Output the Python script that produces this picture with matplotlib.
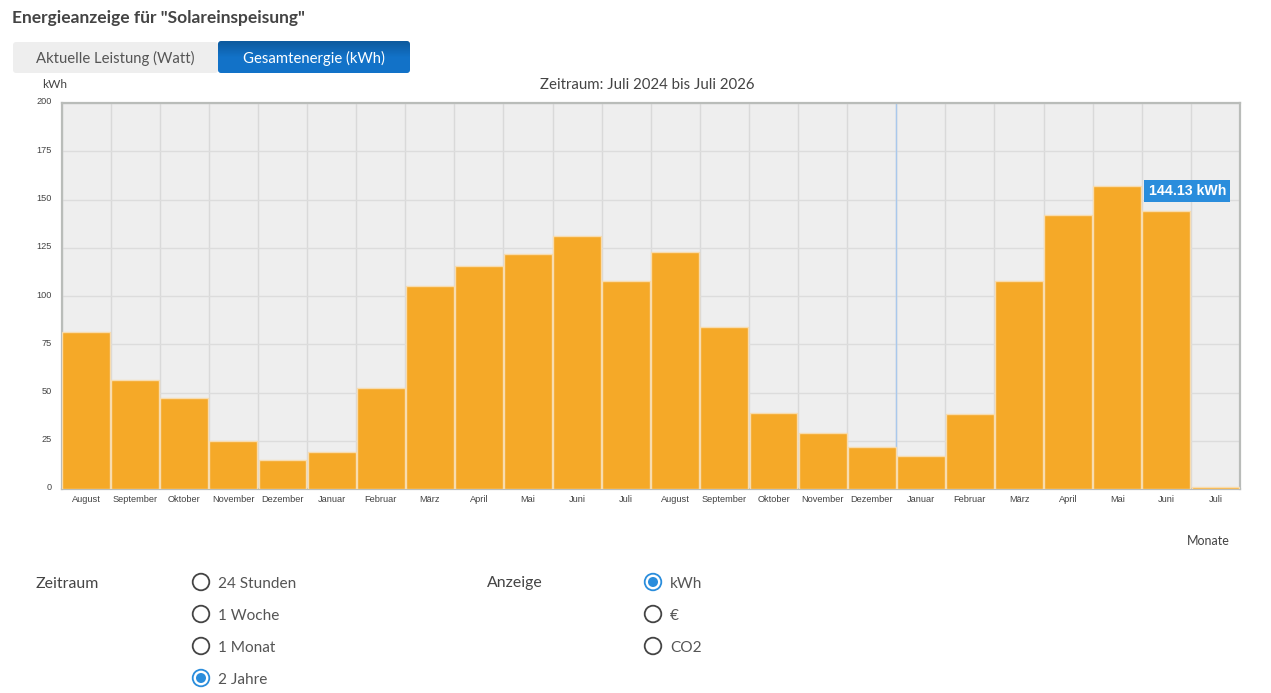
"""Energieanzeige: monthly solar feed-in bars with the surrounding page controls."""
import matplotlib
matplotlib.use("Agg")
import matplotlib.pyplot as plt
from matplotlib.patches import Circle, FancyBboxPatch
from matplotlib.transforms import ScaledTranslation
import numpy as np

MONTHS = ["August", "September", "Oktober", "November", "Dezember", "Januar",
          "Februar", "März", "April", "Mai", "Juni", "Juli",
          "August", "September", "Oktober", "November", "Dezember", "Januar",
          "Februar", "März", "April", "Mai", "Juni", "Juli"]
KWH = [81.5, 56.7, 47.3, 25.0, 15.0, 19.0, 52.5, 105.3, 115.6, 122.0, 131.2, 108.0,
       123.0, 84.0, 39.6, 29.0, 22.0, 17.0, 39.0, 108.0, 142.0, 157.0, 144.13, 1.0]
Y_TICKS = [0, 25, 50, 75, 100, 125, 150, 175, 200]
PERIODS = ["24 Stunden", "1 Woche", "1 Monat", "2 Jahre"]
UNITS = ["kWh", "€", "CO2"]

W, H = 1271, 693
TEXT = "#444444"
ORANGE = "#f5a928"
ORANGE_EDGE = "#f8dcae"
BLUE = "#2a8ddc"
FONT = "Lato"
TICK_FONT = "Liberation Sans"

fig = plt.figure(figsize=(W / 100, H / 100), dpi=100)

# page layer in pixel coordinates, y pointing down
page = fig.add_axes([0, 0, 1, 1])
page.axis("off")

# plot area
L, R, T, B = 61.5, 1240, 103, 489
ax = fig.add_axes([L / W, 1 - B / H, (R - L) / W, (B - T) / H])
ax.set_facecolor("#eeeeee")
ax.bar(range(len(KWH)), KWH, width=0.975, color=ORANGE, edgecolor=ORANGE_EDGE,
       linewidth=1.0, zorder=3)
ax.set_xlim(-0.5, len(KWH) - 0.5)
ax.set_ylim(0, 200)
ax.set_yticks(Y_TICKS)
ax.set_xticks(range(len(MONTHS)))
ax.set_xticklabels(MONTHS, fontsize=6.7, color=TEXT, family=TICK_FONT)
ax.tick_params(axis="x", length=0, pad=4.5)
ax.tick_params(axis="y", length=0, pad=7, labelsize=6.6, labelcolor=TEXT)
for lab in ax.get_yticklabels():
    lab.set_family(TICK_FONT)
    lab.set_transform(lab.get_transform() + ScaledTranslation(0, 2 / 100, fig.dpi_scale_trans))
ax.yaxis.grid(True, color="#dcdcdc", linewidth=1.0, zorder=1)
for x in range(len(KWH) + 1):
    ax.axvline(x - 0.5, color="#d9d9d9", linewidth=1.0, zorder=1)
ax.axvline(16.5, color="#a9c8ec", linewidth=1.0, zorder=2)  # year change
for spine in ax.spines.values():
    spine.set_color("#b9bcb9")
    spine.set_linewidth(1.6)

# value label next to the latest complete month
ax.annotate("144.13 kWh", xy=(22, KWH[22]), xytext=(21, 20),
            textcoords="offset pixels", ha="center", va="center", fontsize=10.2,
            fontweight="bold", color="white", family=TICK_FONT, zorder=5,
            bbox=dict(boxstyle="square,pad=0.3", fc=BLUE, ec=BLUE, lw=0))

# heading and tab buttons
page.text(12, 18, 'Energieanzeige für "Solareinspeisung"', fontsize=12.5,
          fontweight="bold", color=TEXT, family=FONT, va="center")
page.add_patch(FancyBboxPatch((13, 42), 205, 31, boxstyle="round,pad=0,rounding_size=3",
                              fc="#eeeeee", ec="none"))
tab = FancyBboxPatch((218, 41), 192, 32, boxstyle="round,pad=0,rounding_size=3",
                     fc="none", ec="none")
page.add_patch(tab)
shade = page.imshow(np.linspace(0, 1, 32).reshape(-1, 1), extent=(218, 410, 73, 41),
                    aspect="auto", zorder=1,
                    cmap=matplotlib.colors.LinearSegmentedColormap.from_list(
                        "tab", ["#0d5a9e", "#1272c8", "#1272c8"]))
shade.set_clip_path(tab)
page.set_xlim(0, W)
page.set_ylim(H, 0)
page.text(115.5, 58, "Aktuelle Leistung (Watt)", fontsize=10.7, color="#555555",
          family=FONT, ha="center", va="center", zorder=2)
page.text(314, 58, "Gesamtenergie (kWh)", fontsize=10.7, color="white",
          family=FONT, ha="center", va="center", zorder=2)

# axis captions
page.text(55, 85, "kWh", fontsize=8.6, color=TEXT, family=FONT, ha="center", va="center")
page.text(647, 85, "Zeitraum: Juli 2024 bis Juli 2026", fontsize=10.8, color=TEXT,
          family=FONT, ha="center", va="center")
page.text(1208, 541, "Monate", fontsize=9, color=TEXT, family=FONT, ha="center", va="center")


def radio_group(title, title_x, radio_x, labels, selected):
    page.text(title_x, 583.5, title, fontsize=11.4, color=TEXT, family=FONT, va="center")
    for i, label in enumerate(labels):
        y = 582 + 32 * i
        on = i == selected
        page.add_patch(Circle((radio_x, y), 8.3, fc="white",
                              ec=BLUE if on else "#444444", lw=1.3))
        if on:
            page.add_patch(Circle((radio_x, y), 5, fc=BLUE, ec="none"))
        page.text(radio_x + 17, y + 1.5, label, fontsize=11.1, color="#555555",
                  family=FONT, va="center")


radio_group("Zeitraum", 36, 201, PERIODS, 3)
radio_group("Anzeige", 487, 653, UNITS, 0)

fig.savefig("out.png", dpi=100)
